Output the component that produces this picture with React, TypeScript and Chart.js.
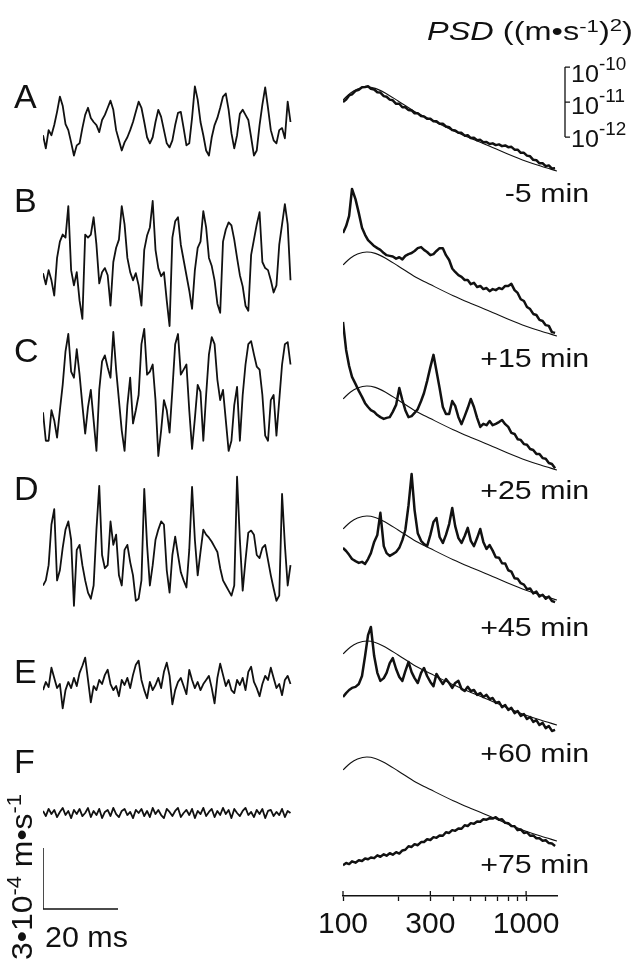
import React, { useEffect, useRef } from 'react';
import { Chart, registerables } from 'chart.js';

Chart.register(...registerables);

// ---------------- data ----------------
// Left: velocity traces, µm/s, sampled every SAMPLE_MS
const SAMPLE_MS = 0.75;
const TRACE_A = [
  -65, -130, -40, -65, -15, 50, 125, 80, -10, -40,
  -100, -165, -115, -105, -30, 35, 70, 20, 0, -15,
  -50, 10, 35, 70, 105, 60, -40, -90, -140, -100,
  -75, -40, 0, 50, 100, 70, 0, -75, -105, -75,
  0, 60, 25, -40, -105, -125, -90, -15, 45, 50,
  -30, -115, -105, 20, 175, 110, 0, -65, -140, -165,
  -75, -15, 20, 70, 125, 140, 60, -55, -130, -65,
  40, 60, 35, 10, -75, -165, -140, -15, 85, 170,
  70, -40, -90, -105, -40, -30, -80, 100, 0,
];
const TRACE_B = [
  -55, -110, -40, -90, -165, 20, 100, 135, 120, 275,
  -40, -115, -50, -190, -280, 135, 120, 135, 220, 85,
  -105, -50, -30, -65, -215, 0, 70, 110, 275, 185,
  20, -50, -90, -55, -115, -215, 60, 130, 170, 300,
  60, -30, -70, -50, -190, -315, 120, 200, 220, 85,
  10, -65, -140, -230, -40, 70, 100, 250, 170, 20,
  -20, -90, -205, -250, 100, 160, 195, 180, 110, 20,
  -65, -120, -215, -240, 35, 110, 185, 245, 0, -30,
  -40, -90, -150, -115, 85, 185, 285, 185, -90,
];
const TRACE_C = [
  -85, -225, -225, -75, -125, -210, -75, 50, 215, 300,
  115, 85, 225, 100, -50, -190, -60, 25, -125, -275,
  25, 165, 195, 135, 85, 310, 125, -25, -175, -275,
  -50, 85, -140, -75, 0, 250, 325, 100, 115, 150,
  -25, -300, -175, -25, -75, -185, 25, 250, 300, 100,
  125, 150, -75, -265, -115, 50, 15, -225, 0, 200,
  285, 250, 75, -25, 25, -125, -275, -225, -50, 40,
  -225, 0, 150, 250, 265, 200, 140, 125, 0, -200,
  -225, -25, 0, -200, -25, 150, 250, 260, 150,
];
const TRACE_D = [
  -150, -125, -50, 150, 225, -125, -75, 35, 125, 165,
  75, -250, 25, 50, -50, -125, -185, -215, -150, 125,
  340, 0, -65, -50, 165, 50, 100, -100, -150, 25,
  50, -35, -100, -225, -215, -125, 325, 50, -150, -50,
  75, 125, 165, 150, -75, -185, 0, 90, 0, -85,
  -125, -160, 25, 335, 75, -100, 15, 125, 100, 85,
  65, 40, 15, -65, -125, -150, -175, -200, -150, 385,
  75, -175, -25, 110, 120, 100, 0, -15, 35, 50,
  -25, -100, -165, -225, -200, 300, 50, -150, -50,
];
const TRACE_E = [
  -35, 5, -20, 75, 25, -25, -5, -125, -35, 5,
  -25, 25, -15, 50, 85, 125, 15, -95, -15, -35,
  15, -5, 40, 65, -5, -35, -15, -65, 15, -10,
  25, -25, 40, 90, 110, 15, -35, -75, 5, -35,
  -10, 25, -25, 55, 100, 35, -105, -35, 5, 25,
  -15, -55, 65, 15, -25, 5, -35, -5, 15, 35,
  -25, -100, 25, 95, 40, -15, 15, -35, -50, 15,
  -10, 25, -35, 55, 80, 5, -25, -65, -5, 35,
  15, 75, 25, -25, -5, -60, 15, 35, -5,
];
const TRACE_F = [
  10, -15, 20, -5, 15, -20, 5, 25, -10, 10,
  -25, 15, -5, 20, -15, 0, 25, -20, 10, -10,
  20, -25, 5, 15, -15, 25, -5, -20, 10, 20,
  -10, 5, -25, 15, 0, 20, -15, 10, -20, 25,
  -5, 15, -10, -25, 20, 5, -15, 10, 25, -20,
  0, 15, -10, 20, -25, 10, -5, 25, -15, 5,
  20, -20, 10, -10, 25, -5, 15, -25, 20, 0,
  -15, 10, 25, -10, 5, -20, 15, -5, 20, -25,
  10, 15, -15, 5, -10, 20, -20, 10, 0,
];

// Right: power spectral density, dB re 1 (m·s⁻¹)², at FREQS (Hz)
const FREQS = [
  100, 104, 108, 112, 117, 122, 127, 132, 137, 142,
  148, 154, 160, 167, 173, 180, 187, 195, 203, 211,
  219, 228, 237, 246, 256, 267, 277, 288, 300, 312,
  324, 337, 351, 365, 380, 395, 410, 427, 444, 462,
  480, 499, 519, 540, 562, 584, 608, 632, 657, 683,
  711, 739, 769, 799, 831, 865, 899, 935, 973, 1011,
  1052, 1094, 1138, 1183, 1231, 1280, 1331, 1384, 1440,
];
const PSD_A = [
  -110.0, -109.3, -108.1, -107.8, -106.8, -106.5, -105.8, -105.7, -105.5, -106.2,
  -106.4, -107.2, -107.3, -108.3, -108.5, -109.3, -109.5, -110.5, -110.5, -111.5,
  -111.5, -112.3, -112.4, -113.2, -113.2, -114.0, -114.1, -114.8, -114.8, -115.5,
  -115.5, -116.2, -116.2, -117.0, -117.2, -118.0, -118.1, -118.8, -118.8, -119.6,
  -119.5, -120.3, -120.2, -120.9, -120.8, -121.5, -121.4, -122.0, -121.8, -122.3,
  -122.1, -122.6, -122.4, -122.9, -122.8, -123.6, -123.6, -124.5, -124.5, -125.3,
  -125.5, -126.5, -126.6, -127.5, -127.5, -128.3, -128.1, -129.0, -128.9,
];
const PSD_B = [
  -100.3, -98.3, -95.4, -87.7, -90.6, -94.6, -98.8, -100.8, -102.3, -103.1,
  -104.0, -104.6, -105.1, -106.0, -106.6, -106.8, -107.0, -107.6, -107.2, -107.8,
  -106.8, -106.3, -106.0, -105.4, -104.6, -104.3, -105.1, -105.7, -106.6, -106.3,
  -105.4, -104.6, -104.6, -106.6, -108.0, -110.4, -111.4, -112.3, -112.8, -113.7,
  -113.7, -114.9, -114.5, -115.7, -115.4, -116.3, -116.0, -116.9, -116.3, -116.6,
  -116.0, -116.3, -115.4, -115.4, -114.8, -116.6, -117.4, -119.2, -119.7, -121.4,
  -122.0, -123.4, -123.7, -125.1, -125.4, -126.6, -126.8, -128.6, -128.8,
];
const PSD_C = [
  -87.4, -95.4, -100.0, -103.1, -105.1, -107.1, -108.8, -110.6, -111.7, -112.6,
  -113.1, -114.0, -114.6, -115.1, -114.8, -114.6, -113.1, -111.1, -106.3, -109.7,
  -112.6, -114.6, -114.3, -113.4, -112.3, -110.0, -107.7, -104.3, -100.3, -96.8,
  -101.4, -106.3, -111.7, -113.7, -113.7, -110.0, -111.4, -114.6, -116.6, -114.3,
  -112.0, -109.4, -111.7, -114.8, -117.4, -116.5, -116.9, -115.7, -116.9, -116.5,
  -116.0, -115.4, -116.6, -117.4, -119.1, -119.4, -120.9, -121.1, -122.3, -122.5,
  -123.7, -124.0, -125.1, -125.1, -126.3, -126.5, -127.7, -128.0, -129.2,
];
const PSD_D = [
  -114.8, -115.7, -116.8, -118.0, -118.6, -119.1, -118.8, -119.4, -118.0, -116.3,
  -113.1, -111.1, -104.8, -114.3, -116.3, -117.1, -116.6, -116.0, -114.8, -112.6,
  -109.7, -102.6, -93.7, -104.0, -110.6, -112.8, -113.7, -114.3, -111.1, -107.4,
  -106.3, -111.7, -113.4, -111.1, -108.0, -103.4, -108.6, -112.0, -113.4, -111.4,
  -109.1, -112.8, -114.3, -112.0, -109.4, -113.1, -115.1, -114.0, -115.6, -117.5,
  -117.6, -119.2, -119.3, -121.2, -121.6, -123.5, -123.6, -124.9, -125.3, -126.6,
  -126.4, -127.8, -127.3, -128.7, -128.2, -129.3, -128.7, -130.0, -130.3,
];
const PSD_E = [
  -121.7, -120.6, -119.7, -119.1, -118.8, -118.0, -115.7, -110.0, -104.0, -101.7,
  -110.0, -114.8, -117.1, -116.3, -114.8, -112.0, -110.6, -113.7, -116.0, -117.1,
  -114.3, -111.7, -114.6, -116.3, -117.7, -114.8, -113.4, -115.7, -117.4, -118.6,
  -115.1, -116.6, -118.0, -116.6, -117.7, -119.1, -117.7, -117.1, -119.4, -120.0,
  -118.8, -120.0, -119.7, -121.1, -120.6, -121.7, -121.1, -122.3, -122.0, -123.4,
  -123.1, -124.6, -124.0, -125.4, -124.8, -126.3, -125.7, -127.1, -126.6, -128.0,
  -127.4, -128.8, -128.3, -129.7, -129.1, -130.6, -130.0, -131.4, -131.1,
];
const PSD_F = [
  -136.6, -136.0, -136.3, -135.5, -135.9, -135.2, -135.4, -134.7, -134.9, -134.4,
  -134.6, -133.8, -134.2, -133.5, -133.9, -133.2, -133.6, -132.9, -133.3, -132.4,
  -132.2, -131.2, -131.4, -130.6, -130.9, -130.0, -130.0, -129.2, -129.4, -128.6,
  -128.8, -128.1, -128.2, -127.2, -127.4, -126.6, -126.8, -126.1, -126.2, -125.2,
  -125.4, -124.6, -124.8, -124.1, -124.2, -123.5, -123.6, -123.2, -123.3, -122.9,
  -123.6, -123.5, -124.5, -124.6, -125.4, -125.5, -126.6, -126.4, -127.4, -127.2,
  -128.2, -128.1, -128.9, -128.9, -129.6, -129.5, -130.3, -130.4, -131.1,
];
// Baseline (reference) spectrum drawn as thin line in every panel
const REF_FREQS = [100, 110, 120, 135, 150, 170, 200, 250, 300, 400, 500, 600, 800, 1000, 1200, 1475];
const REF_DB = [-109.4, -107.4, -106.3, -105.7, -106.1, -107.4, -109.7, -112.9, -115.0, -118.2, -120.4, -122.1, -124.9, -126.9, -128.3, -129.7];
const REF_PEAK_DB = -105.7;

const PANEL_LETTERS = ['A', 'B', 'C', 'D', 'E', 'F'];
const TIME_LABELS = ['-5 min', '+15 min', '+25 min', '+45 min', '+60 min', '+75 min'];
const FREQ_TICKS = [100, 200, 300, 400, 500, 600, 700, 800, 900, 1000];
const FREQ_LABELS = [100, 300, 1000];
const BRACKET_DB = [-100, -110, -120];
const BRACKET_EXP = ['-10', '-11', '-12'];
const SCALE_BAR_MS = 20;
const SCALE_BAR_UMS = 300;

const TRACES = [TRACE_A, TRACE_B, TRACE_C, TRACE_D, TRACE_E, TRACE_F];
const SPECTRA = [PSD_A, PSD_B, PSD_C, PSD_D, PSD_E, PSD_F];

// ---------------- layout ----------------
const W = 634;
const H = 961;
const FONT = '"Liberation Sans", Arial, Helvetica, sans-serif';
const LEFT_X0 = 43;
const LEFT_W = 249;
const TIME_MAX = 66.4;
const UM_PER_PX = SCALE_BAR_UMS / 61;
const TRACE_CENTER_PX = [122, 262, 395, 555, 683, 813];
const SCALE_BAR_PX = 909;
const RIGHT_X0 = 343;
const RIGHT_X1 = 557;
const FREQ_MIN = 100;
const FREQ_MAX = 1475;
const PX_PER_DB = 3.5;
const PEAK_PX = [87, 252, 386, 516, 641, 757];
const AXIS_AREA_TOP = 790;
const AXIS_PAD_BOTTOM = 12;
const LETTER_BASE = [108, 212, 362, 500, 683, 773];
const TIME_BASE = [202, 367, 499, 636, 762, 873];
const BRACKET_BASE = [82, 114, 147];

const INK = '#111';

function linAxis(center: number, unitsPerPx: number) {
  return { type: 'linear', display: false, bounds: 'data', min: -(H - center) * unitsPerPx, max: center * unitsPerPx };
}
function dbAxis(peakPx: number) {
  return { type: 'linear', display: false, bounds: 'data', min: REF_PEAK_DB - (H - peakPx) / PX_PER_DB, max: REF_PEAK_DB + peakPx / PX_PER_DB };
}

const baseOpts = {
  animation: false,
  responsive: false,
  maintainAspectRatio: false,
  events: [],
  plugins: { legend: { display: false }, tooltip: { enabled: false } },
};

function leftConfig(): any {
  const scales: any = {
    x: { type: 'linear', display: false, bounds: 'data', min: 0, max: TIME_MAX },
    yBar: linAxis(SCALE_BAR_PX, UM_PER_PX),
  };
  const datasets: any[] = [];
  TRACES.forEach((tr, p) => {
    const id = 'y' + PANEL_LETTERS[p];
    scales[id] = linAxis(TRACE_CENTER_PX[p], UM_PER_PX);
    datasets.push({
      data: tr.map((v, k) => ({ x: k * SAMPLE_MS, y: v })),
      yAxisID: id,
      borderColor: INK,
      borderWidth: 1.8,
      pointRadius: 0,
      tension: 0,
      borderJoinStyle: 'round',
      fill: false,
    });
  });
  datasets.push({
    data: [{ x: 0, y: SCALE_BAR_UMS }, { x: 0, y: 0 }, { x: SCALE_BAR_MS, y: 0 }],
    yAxisID: 'yBar',
    borderColor: INK,
    borderWidth: 1.5,
    pointRadius: 0,
    tension: 0,
    fill: false,
  });
  return {
    type: 'line',
    data: { datasets },
    options: {
      ...baseOpts,
      layout: { padding: { left: LEFT_X0, right: W - LEFT_X0 - LEFT_W, top: 0, bottom: 0 } },
      scales,
    },
  };
}

const bracketPlugin = {
  id: 'psdBracket',
  afterDatasetsDraw(chart: any) {
    const s = chart.scales.pA;
    const ctx = chart.ctx;
    const x = 565;
    const ys = BRACKET_DB.map((v) => s.getPixelForValue(v));
    ctx.save();
    ctx.strokeStyle = INK;
    ctx.lineWidth = 1.3;
    ctx.beginPath();
    ctx.moveTo(x, ys[0]);
    ctx.lineTo(x, ys[ys.length - 1]);
    ys.forEach((y: number) => {
      ctx.moveTo(x, y);
      ctx.lineTo(x + 5, y);
    });
    ctx.stroke();
    ctx.restore();
  },
};

function rightConfig(): any {
  const scales: any = {
    x: { type: 'logarithmic', display: false, bounds: 'data', min: FREQ_MIN, max: FREQ_MAX },
  };
  const datasets: any[] = [];
  SPECTRA.forEach((sp, p) => {
    const id = 'p' + PANEL_LETTERS[p];
    scales[id] = dbAxis(PEAK_PX[p]);
    datasets.push({
      data: sp.map((v, i) => ({ x: FREQS[i], y: v })),
      yAxisID: id,
      borderColor: INK,
      borderWidth: 2.5,
      pointRadius: 0,
      tension: 0,
      borderJoinStyle: 'round',
      fill: false,
      order: 0,
    });
    datasets.push({
      data: REF_DB.map((v, i) => ({ x: REF_FREQS[i], y: v })),
      yAxisID: id,
      borderColor: INK,
      borderWidth: 1.1,
      pointRadius: 0,
      cubicInterpolationMode: 'monotone',
      fill: false,
      order: 1,
    });
  });
  return {
    type: 'line',
    data: { datasets },
    options: {
      ...baseOpts,
      layout: { padding: { left: RIGHT_X0, right: W - RIGHT_X1, top: 0, bottom: 0 } },
      scales,
    },
    plugins: [bracketPlugin],
  };
}

// major ticks also rise 5 px above the axis line
const majorTickPlugin = {
  id: 'majorTicksUp',
  afterDraw(chart: any) {
    const s = chart.scales.x;
    const ctx = chart.ctx;
    const yb = chart.chartArea.bottom;
    ctx.save();
    ctx.strokeStyle = INK;
    ctx.lineWidth = 1.3;
    ctx.beginPath();
    FREQ_LABELS.forEach((v) => {
      const x = s.getPixelForValue(v);
      ctx.moveTo(x, yb - 5);
      ctx.lineTo(x, yb);
    });
    ctx.stroke();
    ctx.restore();
  },
};

function axisConfig(): any {
  return {
    type: 'line',
    data: { datasets: [] },
    options: {
      ...baseOpts,
      layout: { padding: { left: RIGHT_X0, right: W - RIGHT_X1, top: AXIS_AREA_TOP, bottom: AXIS_PAD_BOTTOM } },
      scales: {
        x: {
          type: 'logarithmic',
          position: 'bottom',
          bounds: 'data',
          min: FREQ_MIN,
          max: FREQ_MAX,
          afterBuildTicks: (s: any) => {
            s.ticks = FREQ_TICKS.map((v) => ({ value: v }));
          },
          grid: {
            display: true,
            drawOnChartArea: false,
            drawTicks: true,
            tickLength: 5,
            tickColor: INK,
            tickWidth: 1.3,
          },
          border: { display: true, color: INK, width: 1.5 },
          ticks: {
            autoSkip: false,
            maxRotation: 0,
            minRotation: 0,
            padding: 6,
            color: INK,
            font: { family: FONT, size: 30 },
            callback: (v: any) => (FREQ_LABELS.includes(Number(v)) ? String(v) : ''),
          },
        },
        y: { display: false, min: 0, max: 1 },
      },
    },
    plugins: [majorTickPlugin],
  };
}

// ---------------- text helpers ----------------
function Sup({ size, raise, children }: { size: number; raise: number; children: any }) {
  return (
    <span style={{ fontSize: size, position: 'relative', top: -raise, lineHeight: 0 }}>{children}</span>
  );
}

function Txt({ x, base, size, sx = 1, align = 'left', children }: any) {
  const style: any = {
    position: 'absolute',
    top: base - 0.8465 * size,
    fontSize: size,
    lineHeight: `${size}px`,
    fontFamily: FONT,
    whiteSpace: 'nowrap',
    color: INK,
    transform: `scaleX(${sx})`,
    transformOrigin: align === 'left' ? 'left center' : 'right center',
  };
  if (align === 'left') style.left = x;
  else style.right = W - x;
  return <div style={style}>{children}</div>;
}

export default function App() {
  const leftRef = useRef<HTMLCanvasElement>(null);
  const rightRef = useRef<HTMLCanvasElement>(null);
  const axisRef = useRef<HTMLCanvasElement>(null);

  useEffect(() => {
    const charts = [
      new Chart(leftRef.current as HTMLCanvasElement, leftConfig()),
      new Chart(rightRef.current as HTMLCanvasElement, rightConfig()),
      new Chart(axisRef.current as HTMLCanvasElement, axisConfig()),
    ];
    return () => charts.forEach((c) => c.destroy());
  }, []);

  const cv: any = { position: 'absolute', left: 0, top: 0 };
  const vSize = 29;

  return (
    <div style={{ position: 'absolute', left: 0, top: 0, width: W, height: H, background: '#fff', overflow: 'hidden' }}>
      <canvas ref={leftRef} width={W} height={H} style={cv} />
      <canvas ref={rightRef} width={W} height={H} style={cv} />
      <canvas ref={axisRef} width={W} height={H} style={cv} />

      {PANEL_LETTERS.map((l, i) => (
        <Txt key={l} x={14} base={LETTER_BASE[i]} size={34}>{l}</Txt>
      ))}
      {TIME_LABELS.map((t, i) => (
        <Txt key={t} x={589} base={TIME_BASE[i]} size={26} sx={1.17} align="right">{t}</Txt>
      ))}

      <Txt x={427} base={40} size={25} sx={1.3}>
        <i>PSD</i> ((m•s<Sup size={17} raise={8}>-1</Sup>)<Sup size={17} raise={9}>2</Sup>)
      </Txt>

      {BRACKET_EXP.map((e, i) => (
        <Txt key={e} x={571} base={BRACKET_BASE[i]} size={24} sx={1.05}>
          10<Sup size={18} raise={12}>{e}</Sup>
        </Txt>
      ))}

      <Txt x={45} base={948} size={29} sx={1.05}>20 ms</Txt>

      <div
        style={{
          position: 'absolute',
          left: 0,
          top: 0,
          fontSize: vSize,
          lineHeight: `${vSize}px`,
          fontFamily: FONT,
          whiteSpace: 'nowrap',
          color: INK,
          transformOrigin: '0 0',
          transform: `translate(33px, 960px) rotate(-90deg) scaleX(1.1) translateY(${-0.8465 * vSize}px)`,
        }}
      >
        3•10<Sup size={20} raise={11}>-4</Sup> m•s<Sup size={20} raise={11}>-1</Sup>
      </div>
    </div>
  );
}
